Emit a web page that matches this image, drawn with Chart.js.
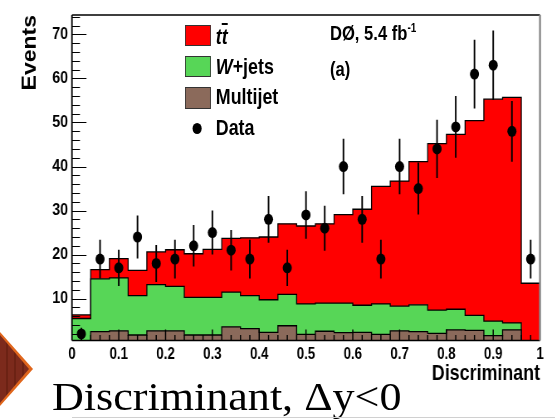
<!DOCTYPE html>
<html>
<head>
<meta charset="utf-8">
<script src="https://cdn.jsdelivr.net/npm/chart.js@4.4.0/dist/chart.umd.min.js"></script>
<style>
  html, body { margin: 0; padding: 0; background: #fff; }
  #wrap { position: relative; width: 555px; height: 419px; overflow: hidden; }
  /* o plot original do ROOT esta achatado na horizontal (~0.83) */
  #plot { position: absolute; left: 0; top: 0; width: 669px; height: 419px;
          transform: scaleX(0.83); transform-origin: 0 0; }
  #chartHist { position: absolute; left: 0; top: 0; }
  .txt { position: absolute; font-family: 'Liberation Sans', Arial, sans-serif;
         font-weight: bold; white-space: nowrap; line-height: 1; color: #000; }
  .box { position: absolute; left: 222.5px; width: 31.5px; box-sizing: border-box; border: 1px solid #333; }
  .caption { position: absolute; left: 52px; top: 376px; font-family: 'Liberation Serif', 'Times New Roman', serif;
             font-size: 41px; line-height: 1; white-space: nowrap; color: #000;
             transform: scaleX(1.075); transform-origin: 0 0; }
  .arrow-o { position: absolute; left: 0; top: 332px; width: 33px; height: 74px; background: #e0661c;
             clip-path: polygon(0 0, 100% 50%, 0 100%); }
  .arrow-i { position: absolute; left: 0; top: 335px; width: 29px; height: 68px;
             background: repeating-linear-gradient(90deg, #7c2a1c 0 6px, #6c2214 6px 8px);
             clip-path: polygon(0 0, 100% 50%, 0 100%); }
  .rule { position: absolute; left: 72px; top: 417px; width: 483px; height: 1px; background: #d0d0d0; }
</style>
</head>
<body>
<div id="wrap">
  <div id="plot">
    <canvas id="chartHist" width="669" height="419"></canvas>

    <!-- legenda -->
    <div class="box" style="top:25px;height:21px;background:#ff0000"></div>
    <div class="box" style="top:56px;height:21px;background:#57d657"></div>
    <div class="box" style="top:87px;height:22px;background:#8b6a5b"></div>
    <div style="position:absolute;left:231.5px;top:123px;width:11px;height:11px;border-radius:50%;background:#000"></div>
    <div class="txt" style="left:260px;top:26.5px;font-size:21.5px"><i>t</i><i style="text-decoration:overline">t</i></div>
    <div class="txt" style="left:260px;top:56.5px;font-size:21.5px"><i>W</i>+jets</div>
    <div class="txt" style="left:260px;top:87px;font-size:21.5px">Multijet</div>
    <div class="txt" style="left:260px;top:118px;font-size:21.5px">Data</div>

    <div class="txt" style="left:397.5px;top:22px;font-size:20px">DØ, 5.4 fb<span style="font-size:12px;vertical-align:8px">-1</span></div>
    <div class="txt" style="left:397.5px;top:59px;font-size:20px">(a)</div>
  </div>

  <div class="arrow-o"></div>
  <div class="arrow-i"></div>
  <div class="caption">Discriminant, Δy&lt;0</div>
  <div class="rule"></div>
</div>

<script>
// bordas dos bins (25 bins de 0.04)
const binEdges = [0, 0.04, 0.08, 0.12, 0.16, 0.2, 0.24, 0.28, 0.32, 0.36, 0.4, 0.44, 0.48,
                  0.52, 0.56, 0.6, 0.64, 0.68, 0.72, 0.76, 0.8, 0.84, 0.88, 0.92, 0.96, 1];
const binCenters = [0.02, 0.06, 0.1, 0.14, 0.18, 0.22, 0.26, 0.3, 0.34, 0.38, 0.42, 0.46, 0.5,
                    0.54, 0.58, 0.62, 0.66, 0.7, 0.74, 0.78, 0.82, 0.86, 0.9, 0.94, 0.98];

// componentes empilhadas
const multijet = [0.3, 2.5, 2.7, 1.75, 2.7, 2.7, 1.75, 1.75, 3.6, 3.2, 2.35, 3.85, 1.9,
                  2.6, 2.3, 2.35, 1.9, 2.7, 2.5, 2.1, 2.9, 2.8, 1.6, 2.9, 0.3];
const wjets = [5.2, 12.0, 12.0, 8.95, 10.5, 10.1, 8.55, 8.55, 7.9, 7.5, 7.4, 7.1, 6.9,
               6.4, 6.7, 6.15, 6.9, 5.6, 6.1, 5.3, 4.7, 3.4, 3.3, 1.6, 0];
const ttbar = [0.8, 2.1, 4.4, 5.7, 7.4, 8.3, 9.9, 10.9, 12.2, 13.1, 14.25, 16.05, 17.7,
               18.0, 20.1, 21.8, 26.7, 28.4, 32.5, 37.8, 39.7, 44.2, 50.4, 51.2, 13.2];

// dados observados e barras de erro
const dataCounts = [2, 19, 17, 24, 18, 19, 22, 25, 21, 19, 28, 17, 29,
                    26, 40, 28, 19, 40, 35, 44, 49, 61, 63, 48, 19];
const dataErrors = [1.4, 4.4, 4.1, 4.9, 4.2, 4.4, 4.7, 5.0, 4.6, 4.4, 5.3, 4.1, 5.4,
                    5.1, 6.3, 5.3, 4.4, 6.3, 5.9, 6.6, 7.0, 7.8, 7.9, 6.9, 4.4];

const xTicks = [0, 0.1, 0.2, 0.3, 0.4, 0.5, 0.6, 0.7, 0.8, 0.9, 1];
const yTicks = [10, 20, 30, 40, 50, 60, 70];

const sans = "'Liberation Sans', Arial, sans-serif";
const SX = 0.83; // achatamento horizontal (linhas verticais ficam mais grossas para compensar)

// histograma em degraus: um ponto por borda, ultimo valor repetido
const steps = vals => binEdges.map((x, i) => ({ x, y: vals[Math.min(i, vals.length - 1)] }));

// ticks para dentro + moldura + barras de erro
const rootFrame = {
    id: 'rootFrame',
    afterDatasetsDraw(chart) {
        const { ctx, chartArea: a, scales: { x, y } } = chart;
        ctx.save();
        ctx.beginPath();
        ctx.rect(a.left, a.top, a.right - a.left, a.bottom - a.top);
        ctx.clip();
        ctx.strokeStyle = '#000';
        ctx.lineWidth = 1.6 / SX;
        binCenters.forEach((c, i) => {
            const px = x.getPixelForValue(c);
            ctx.beginPath();
            ctx.moveTo(px, y.getPixelForValue(dataCounts[i] - dataErrors[i]));
            ctx.lineTo(px, y.getPixelForValue(dataCounts[i] + dataErrors[i]));
            ctx.stroke();
        });
        ctx.restore();

        ctx.save();
        ctx.strokeStyle = '#000';
        ctx.lineWidth = 1.2;
        ctx.beginPath();
        for (let v = 2; v < y.max; v += 2) {
            const py = Math.round(y.getPixelForValue(v)) + 0.5;
            const len = (v % 10 === 0 ? 14.5 : 8) / SX;
            ctx.moveTo(a.left, py);
            ctx.lineTo(a.left + len, py);
        }
        ctx.stroke();
        ctx.lineWidth = 1.2 / SX;
        ctx.beginPath();
        for (let k = 1; k < 50; k++) {
            const px = x.getPixelForValue(k / 50);
            const len = k % 5 === 0 ? 11 : 5.5;
            ctx.moveTo(px, a.bottom);
            ctx.lineTo(px, a.bottom - len);
        }
        ctx.stroke();

        // moldura
        ctx.lineWidth = 1.5;
        ctx.beginPath();
        ctx.moveTo(a.right, a.top);
        ctx.lineTo(a.left, a.top);
        ctx.moveTo(a.left, a.bottom);
        ctx.lineTo(a.right, a.bottom);
        ctx.stroke();
        ctx.lineWidth = 1.5 / SX;
        ctx.beginPath();
        ctx.moveTo(a.left, a.top);
        ctx.lineTo(a.left, a.bottom);
        ctx.stroke();
        ctx.strokeStyle = '#8a8a8a';
        ctx.lineWidth = 2 / SX;
        ctx.beginPath();
        ctx.moveTo(a.right, a.top);
        ctx.lineTo(a.right, a.bottom);
        ctx.stroke();
        ctx.restore();
    }
};

const histLine = (label, vals, fill, color) => ({
    type: 'line',
    label,
    data: steps(vals),
    stepped: true,
    fill,
    backgroundColor: color,
    borderColor: '#000',
    borderWidth: 1.3,
    pointRadius: 0
});

const chart = new Chart(document.getElementById('chartHist'), {
    type: 'line',
    data: {
        datasets: [
            {
                type: 'scatter',
                label: 'Data',
                data: binCenters.map((x, i) => ({ x, y: dataCounts[i] })),
                pointStyle: 'circle',
                pointRadius: 5.5,
                borderWidth: 0,
                backgroundColor: '#000'
            },
            histLine('Multijet', multijet, 'origin', '#8b6a5b'),
            histLine('W+jets', wjets, '-1', '#57d657'),
            histLine('tt̄', ttbar, '-1', '#ff0000')
        ]
    },
    options: {
        responsive: false,
        animation: false,
        devicePixelRatio: 1,
        layout: { padding: { left: 18, top: 11.5, right: 18.4, bottom: 32.5 } },
        plugins: { legend: { display: false }, tooltip: { enabled: false } },
        scales: {
            x: {
                type: 'linear',
                min: 0,
                max: 1,
                grid: { display: false, drawTicks: false },
                border: { display: false },
                ticks: {
                    color: '#000',
                    padding: 4,
                    maxRotation: 0,
                    autoSkip: false,
                    font: { family: sans, size: 16, weight: 'bold' },
                    callback: v => String(+v.toFixed(1))
                },
                afterBuildTicks: s => { s.ticks = xTicks.map(v => ({ value: v })); },
                afterFit: s => { s.height = 46; },
                title: {
                    display: true,
                    text: 'Discriminant',
                    align: 'end',
                    color: '#000',
                    padding: { top: 0, bottom: 0 },
                    font: { family: sans, size: 21.5, weight: 'bold' }
                }
            },
            y: {
                stacked: true,
                min: 0.5,
                max: 74.4,
                grid: { display: false, drawTicks: false },
                border: { display: false },
                ticks: {
                    color: '#000',
                    padding: 4.8,
                    includeBounds: false,
                    font: { family: sans, size: 17, weight: 'bold' }
                },
                afterBuildTicks: s => { s.ticks = yTicks.map(v => ({ value: v })); },
                afterFit: s => { s.width = 68.7; },
                title: {
                    display: true,
                    text: 'Events',
                    align: 'end',
                    color: '#000',
                    padding: { top: 5.3, bottom: 0 },
                    font: { family: sans, size: 23, weight: 'bold' }
                }
            }
        }
    },
    plugins: [rootFrame]
});
</script>
</body>
</html>
